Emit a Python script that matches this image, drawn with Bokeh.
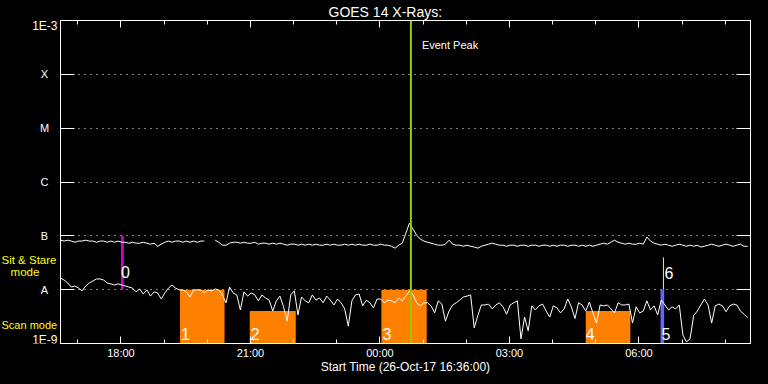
import pandas as pd
from bokeh.plotting import figure
from bokeh.layouts import row
from bokeh.models import (Range1d, FixedTicker, CustomJSTickFormatter, DatetimeAxis,
                          LogAxis, Label, ColumnDataSource, Span)
from bokeh.embed import file_html
from bokeh.resources import INLINE

# ---------------- data ----------------
start_time = "2017-10-26 16:36"
end_time = "2017-10-27 08:35"
sample_step = "5min"
NaN = float("nan")

# GOES 14 long channel (1-8 A), units of 1e-9 W/m^2
flux_long_e9 = [
    83, 80, 83, 80, 76, 80, 80, 83, 80, 80,
    76, 80, 80, 76, 80, 76, 80, 76, 76, 73,
    76, 73, 73, 76, 73, 70, 73, 64, 70, 76,
    80, 76, 80, 80, 76, 80, 76, 80, 76, 80,
    80, NaN, NaN, 83, 76, 67, 67, 73, 76, 76,
    73, 76, 73, 73, 76, 70, 73, 73, 70, 73,
    70, 73, 70, 67, 70, 70, 67, 70, 67, 70,
    67, 70, 67, 67, 70, 67, 70, 67, 67, 70,
    67, 70, 67, 70, 67, 67, 70, 67, 67, 70,
    67, 67, 64, 59, 67, 73, 112, 172, 133, 103,
    87, 80, 76, 73, 70, 67, 67, 70, 83, 70,
    67, 67, 64, 67, 64, 62, 59, 64, 67, 70,
    73, 70, 67, 67, 64, 67, 67, 64, 67, 67,
    64, 67, 67, 64, 67, 67, 64, 67, 64, 67,
    67, 64, 67, 67, 64, 67, 64, 67, 64, 67,
    70, 73, 70, 76, 83, 76, 73, 70, 73, 70,
    70, 73, 70, 95, 80, 73, 70, 67, 70, 67,
    64, 67, 70, 67, 64, 67, 64, 67, 62, 64,
    67, 70, 67, 64, 67, 70, 67, 64, 67, 70,
    64, 64,
]

# GOES 14 short channel (0.5-4 A), units of 1e-9 W/m^2
flux_short_e9 = [
    16.5, 15.1, 13.3, 11.2, 11.7, 10.7, 9.5, 11.7, 13.3, 14.5,
    15.8, 15.8, 15.1, 13.3, 12.8, 12.2, 12.8, 12.2, 11.7, 11.2,
    10.7, 9.1, 10.3, 8.3, 9.9, 7.6, 9.1, 8.7, 6.7, 8.7,
    10.7, 12.2, 10.7, 9.9, 9.9, 9.1, 7.3, 9.9, 9.9, 9.9,
    8.7, 9.9, 9.5, 10.3, 9.9, 8.0, 5.7, 11.2, 8.7, 8.0,
    4.2, 9.1, 7.6, 8.7, 8.0, 6.2, 8.0, 7.0, 6.4, 4.0,
    6.2, 7.6, 4.8, 2.6, 8.0, 9.5, 3.4, 7.3, 6.2, 5.7,
    8.0, 6.4, 7.0, 5.7, 7.6, 6.4, 5.2, 6.7, 5.7, 4.4,
    2.1, 6.2, 8.0, 8.3, 5.0, 6.4, 5.7, 4.6, 6.7, 6.7,
    5.7, 6.4, 6.2, 5.7, 7.0, 6.2, 7.6, 9.5, 8.0, 5.7,
    5.0, 5.7, 5.7, 5.0, 3.7, 6.2, 5.4, 2.6, 4.0, 5.2,
    5.7, 6.4, 7.3, 7.6, 8.0, 1.95, 3.3, 5.2, 5.2, 5.4,
    4.4, 5.2, 5.7, 4.8, 3.5, 5.2, 5.7, 6.2, 1.22, 3.1,
    1.72, 5.0, 4.2, 5.0, 5.4, 4.0, 3.1, 5.0, 4.6, 3.7,
    4.4, 6.7, 4.8, 2.9, 5.7, 5.2, 4.0, 5.9, 3.7, 2.4,
    5.2, 5.0, 5.2, 4.4, 3.7, 5.7, 5.2, 5.2, 5.4, 2.4,
    4.8, 3.7, 4.0, 6.2, 4.2, 5.0, 3.4, 6.4, 5.2, 4.2,
    4.8, 4.4, 5.2, 1.45, 1.07, 1.22, 3.3, 4.0, 5.2, 6.7,
    5.2, 2.4, 5.0, 5.4, 5.0, 3.9, 5.0, 5.4, 5.2, 4.0,
    3.5, 3.0,
]

# observing-mode intervals
mode_labels = ["0", "1", "2", "3", "4", "5"]
mode_start = ["2017-10-26 18:00", "2017-10-26 19:22", "2017-10-26 20:59",
              "2017-10-27 00:02", "2017-10-27 04:46", "2017-10-27 06:30"]
mode_end = ["2017-10-26 18:04", "2017-10-26 20:24", "2017-10-26 22:03",
            "2017-10-27 01:05", "2017-10-27 05:48", "2017-10-27 06:35"]
mode_top = [1e-7, 1e-8, 4e-9, 1e-8, 4e-9, 1e-8]
mode_bottom = [1e-8, 1e-9, 1e-9, 1e-9, 1e-9, 1e-9]
mode_colors = ["#cc00cc", "#ff7f00", "#ff7f00", "#ff7f00", "#ff7f00", "#6666ff"]

marker6_time = "2017-10-27 06:34"
marker6_low, marker6_high = 1e-8, 4e-8

event_peak_time = "2017-10-27 00:43"

class_letters = ["A", "B", "C", "M", "X"]
class_levels = [1e-8, 1e-7, 1e-6, 1e-5, 1e-4]
decades = [1e-9, 1e-8, 1e-7, 1e-6, 1e-5, 1e-4, 1e-3]

major_times = ["2017-10-26 18:00", "2017-10-26 21:00", "2017-10-27 00:00",
               "2017-10-27 03:00", "2017-10-27 06:00"]
minor_times = ["2017-10-26 17:00", "2017-10-26 19:00", "2017-10-26 20:00",
               "2017-10-26 22:00", "2017-10-26 23:00", "2017-10-27 01:00",
               "2017-10-27 02:00", "2017-10-27 04:00", "2017-10-27 05:00",
               "2017-10-27 07:00", "2017-10-27 08:00"]


def ms(s):
    return pd.Timestamp(s).value / 1e6


FONT = "Liberation Sans"
H = 384
TOP, BOTTOM = 19, 41          # borders of the main plot frame
LEFT_W = 58                   # width of the label strip

times = pd.date_range(start_time, periods=len(flux_long_e9), freq=sample_step)
src = ColumnDataSource(dict(
    t=times,
    long=[v * 1e-9 for v in flux_long_e9],
    short=[v * 1e-9 for v in flux_short_e9],
))

yrange = Range1d(1e-9, 1e-3)

p = figure(width=768 - LEFT_W, height=H, x_axis_type="datetime", y_axis_type="log",
           x_range=Range1d(ms(start_time), ms(end_time)),
           y_range=yrange,
           output_backend="svg", toolbar_location=None,
           min_border_left=2, min_border_right=18, min_border_top=TOP,
           min_border_bottom=BOTTOM,
           background_fill_color="black", border_fill_color="black",
           outline_line_color="white")

p.title.text = "GOES 14 X-Rays:"
p.title.align = "left"
p.title.offset = 268
p.title.standoff = 2
p.title.text_color = "white"
p.title.text_font = FONT
p.title.text_font_size = "14px"
p.title.text_font_style = "normal"

tfmt = CustomJSTickFormatter(code="""
const d = new Date(tick);
const h = String(d.getUTCHours()).padStart(2, "0");
const m = String(d.getUTCMinutes()).padStart(2, "0");
return h + ":" + m;
""")
empty_fmt = CustomJSTickFormatter(code="return '';")

xt = FixedTicker(ticks=[ms(s) for s in major_times],
                 minor_ticks=[ms(s) for s in minor_times])
yt = FixedTicker(ticks=decades)


def style_axis(ax, tick_in, minor_in=0):
    ax.axis_line_color = "white"
    ax.major_tick_line_color = "white"
    ax.minor_tick_line_color = "white"
    ax.major_tick_in = tick_in
    ax.major_tick_out = 0
    ax.minor_tick_in = minor_in
    ax.minor_tick_out = 0


xa = p.xaxis[0]
xa.ticker = xt
xa.formatter = tfmt
style_axis(xa, 7, 4)
xa.major_label_text_color = "white"
xa.major_label_text_font = FONT
xa.major_label_text_font_size = "11px"
xa.major_label_standoff = 3
xa.axis_label = "Start Time (26-Oct-17 16:36:00)"
xa.axis_label_text_color = "white"
xa.axis_label_text_font = FONT
xa.axis_label_text_font_size = "12px"
xa.axis_label_text_font_style = "normal"
xa.axis_label_standoff = -2

top = DatetimeAxis(ticker=xt, formatter=empty_fmt, major_label_text_font_size="0px",
                   major_label_standoff=0)
style_axis(top, 7, 4)
p.add_layout(top, "above")

ya = p.yaxis[0]
ya.ticker = yt
ya.formatter = empty_fmt
ya.major_label_text_font_size = "0px"
ya.major_label_standoff = 0
style_axis(ya, 14)

right = LogAxis(ticker=yt, formatter=empty_fmt, major_label_text_font_size="0px",
                major_label_standoff=0)
style_axis(right, 14)
p.add_layout(right, "right")

p.xgrid.visible = False
p.ygrid.ticker = FixedTicker(ticks=class_levels)
p.ygrid.grid_line_color = "white"
p.ygrid.grid_line_dash = "1 5"
p.ygrid.grid_line_width = 1

# mode bars
msrc = ColumnDataSource(dict(
    left=[ms(s) for s in mode_start], right=[ms(s) for s in mode_end],
    top=mode_top, bottom=mode_bottom, color=mode_colors))
p.quad(left="left", right="right", top="top", bottom="bottom",
       fill_color="color", line_color=None, source=msrc)

p.segment(x0=[ms(marker6_time)], x1=[ms(marker6_time)], y0=[marker6_low],
          y1=[marker6_high], line_color="#ffff00", line_width=1)

# flux curves
p.line("t", "long", source=src, line_color="white", line_width=1)
p.line("t", "short", source=src, line_color="white", line_width=1)

# event peak
p.add_layout(Span(location=ms(event_peak_time), dimension="height",
                  line_color="#99cc00", line_width=2))
p.add_layout(Label(x=ms(event_peak_time), y=1e-3, x_offset=11, y_offset=-24,
                   text="Event Peak", text_color="white", text_font=FONT,
                   text_font_size="11px", text_baseline="middle"))

# mode numbers (offsets in px from the bar's lower-left corner)
num_offsets = {"0": (0, 17.5, 1e-8), "1": (1, 9.5, 1e-9), "2": (1, 9.5, 1e-9),
               "3": (1, 9.5, 1e-9), "4": (0, 9.5, 1e-9), "5": (1, 10, 1e-9)}
for lab, st in zip(mode_labels, mode_start):
    dx, dy, yy = num_offsets[lab]
    p.add_layout(Label(x=ms(st), y=yy, x_offset=dx, y_offset=dy, text=lab,
                       text_color="white", text_font=FONT, text_font_size="16px",
                       text_baseline="middle"))
p.add_layout(Label(x=ms(marker6_time), y=marker6_low, x_offset=1, y_offset=16.5,
                   text="6", text_color="white", text_font=FONT,
                   text_font_size="16px", text_baseline="middle"))

# ---------------- left label strip (frame is aligned with the main plot) ----
lp = figure(width=LEFT_W, height=H, x_range=Range1d(0, LEFT_W),
            y_range=yrange, y_axis_type="log",
            x_axis_location=None, y_axis_location=None,
            min_border=0, output_backend="svg", toolbar_location=None,
            background_fill_color="black", border_fill_color="black",
            outline_line_color=None)
lp.grid.visible = False

lp.add_layout(Label(x=57, y=1e-3, y_offset=-5, text="1E-3", text_color="white",
                    text_font=FONT, text_font_size="12px", text_align="right",
                    text_baseline="middle"))
lp.add_layout(Label(x=57, y=1e-9, y_offset=4, text="1E-9", text_color="white",
                    text_font=FONT, text_font_size="12px", text_align="right",
                    text_baseline="middle"))
for letter, lev in zip(class_letters, class_levels):
    lp.add_layout(Label(x=44, y=lev, text=letter, text_color="white",
                        text_font=FONT, text_font_size="11px", text_align="center",
                        text_baseline="middle"))
lp.add_layout(Label(x=1, y=1e-7, y_offset=-24, text="Sit & Stare",
                    text_color="#ffff00", text_font=FONT, text_font_size="11.5px",
                    text_baseline="middle"))
lp.add_layout(Label(x=24.5, y=1e-7, y_offset=-36, text="mode",
                    text_color="#ffff00", text_font=FONT, text_font_size="11.5px",
                    text_align="center", text_baseline="middle"))
lp.add_layout(Label(x=1, y=1e-9, y_offset=19, text="Scan mode",
                    text_color="#ffff00", text_font=FONT, text_font_size="11px",
                    text_baseline="middle"))

layout = row(lp, p, spacing=0)

html = file_html(layout, INLINE)
html = html.replace("<body>", '<body style="margin:0;background-color:#000000;">')
open("out.html", "w").write(html)
